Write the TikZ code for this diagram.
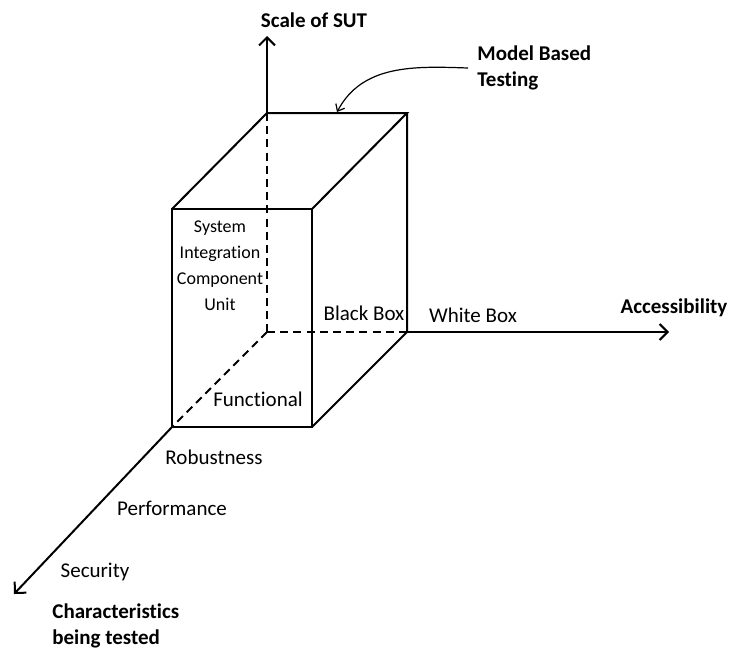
\documentclass[tikz,border=0pt]{standalone}
\usepackage{fontspec}
\setmainfont{Carlito}[Ligatures=NoCommon]
\usetikzlibrary{arrows.meta}

\begin{document}
\begin{tikzpicture}[x=0.5pt, y=-0.5pt,
  edge/.style={black, line width=1pt},
  hidden/.style={edge, dash pattern=on 4pt off 2.6pt},
  axis/.style={edge, -{Straight Barb[length=4pt,width=8pt]}},
  pointer/.style={black, line width=0.6pt, -{Straight Barb[length=3pt,width=5pt]}},
  lbl/.style={font=\fontsize{10.5}{13}\selectfont, inner sep=0pt},
  level/.style={font=\fontsize{9}{13}\selectfont, align=center, inner sep=0pt},
  title/.style={font=\fontsize{10.5}{13}\selectfont\bfseries, align=left, inner sep=0pt}]
\useasboundingbox (0,0) rectangle (732,649);

\coordinate (ftl) at (172,209);
\coordinate (ftr) at (312,209);
\coordinate (fbr) at (312,427);
\coordinate (fbl) at (172,427);
\coordinate (btl) at (267,113);
\coordinate (btr) at (407,113);
\coordinate (bbr) at (407,332);
\coordinate (origin) at (267,332);
\coordinate (ytip) at (267,36);
\coordinate (xtip) at (669,332);
\coordinate (ztip) at (14,594);
\coordinate (mbtend) at (337,112);

\draw[edge] (ftl) -- (ftr) -- (fbr) -- (fbl) -- cycle;
\draw[edge] (ftl) -- (btl) -- (btr) -- (ftr);
\draw[edge] (btr) -- (bbr) -- (fbr);
\draw[hidden] (btl) -- (origin);
\draw[hidden] (origin) -- (bbr);
\draw[hidden] (origin) -- (fbl);

\draw[axis] (btl) -- (ytip);
\draw[axis] (bbr) -- (xtip);
\draw[axis] (fbl) -- (ztip);

\node[title, anchor=center] (sut) at (314,20) {Scale of SUT};
\node[title, anchor=west] (mbt) at (477,68) {Model Based\\Testing};
\node[title, anchor=center] (acc) at (674,308) {Accessibility};
\node[title, anchor=west] (chr) at (52,626) {Characteristics\\being tested};

\node[level] (lvl) at (220,266) {System\\Integration\\Component\\Unit};
\node[lbl] (bb) at (364,313) {Black Box};
\node[lbl] (wb) at (473,315) {White Box};
\node[lbl] (fun) at (258,399) {Functional};
\node[lbl] (rob) at (214,457) {Robustness};
\node[lbl] (perf) at (172,508) {Performance};
\node[lbl] (sec) at (95,572) {Security};

\draw[pointer] ([xshift=-4.5pt]mbt.west) to[out=178, in=62] (mbtend);
\end{tikzpicture}
\end{document}
